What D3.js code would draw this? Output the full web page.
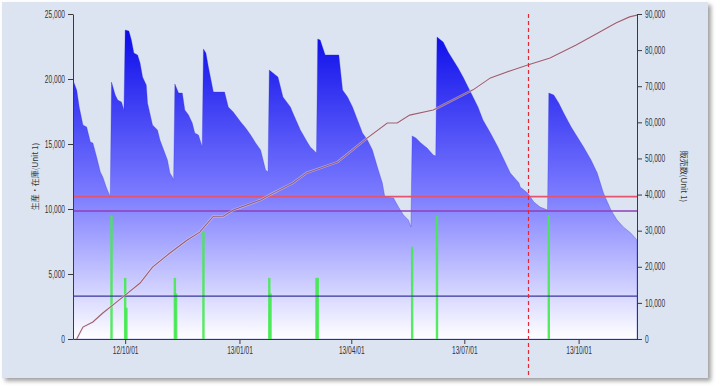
<!DOCTYPE html>
<html><head><meta charset="utf-8">
<script src="https://cdn.jsdelivr.net/npm/d3@7"></script>
<style>
html,body{margin:0;padding:0;background:#ffffff;}
svg{display:block;}
</style></head>
<body>
<svg id="chart" width="720" height="388"></svg>
<script>
// ---- data ----
const invDates = ["2012-08-20","2012-08-23","2012-08-25","2012-08-28","2012-08-31","2012-09-03","2012-09-05","2012-09-08","2012-09-11","2012-09-13","2012-09-16","2012-09-19",
"2012-09-20","2012-09-23","2012-09-25","2012-09-28","2012-09-30",
"2012-10-01","2012-10-04","2012-10-06","2012-10-08","2012-10-11","2012-10-13","2012-10-15","2012-10-18","2012-10-19","2012-10-23","2012-10-27","2012-10-29","2012-11-01","2012-11-04","2012-11-06","2012-11-08","2012-11-09",
"2012-11-10","2012-11-13","2012-11-16","2012-11-18","2012-11-21","2012-11-24","2012-11-26","2012-11-29","2012-12-02",
"2012-12-03","2012-12-05","2012-12-07","2012-12-11","2012-12-20","2012-12-23","2012-12-27","2013-01-02","2013-01-06","2013-01-10","2013-01-14","2013-01-18","2013-01-22","2013-01-24",
"2013-01-25","2013-01-28","2013-02-01","2013-02-05","2013-02-11","2013-02-13","2013-02-19","2013-02-25","2013-02-27","2013-03-04",
"2013-03-05","2013-03-07","2013-03-11","2013-03-22","2013-03-25","2013-03-29","2013-04-02","2013-04-06","2013-04-10","2013-04-14","2013-04-18","2013-04-22","2013-04-26","2013-04-28","2013-05-05","2013-05-09","2013-05-13","2013-05-17","2013-05-19",
"2013-05-20","2013-05-23","2013-05-27","2013-06-01","2013-06-06","2013-06-08",
"2013-06-09","2013-06-12","2013-06-14","2013-06-18","2013-06-22","2013-06-26","2013-06-30","2013-07-04","2013-07-08","2013-07-12","2013-07-16","2013-07-22","2013-07-28","2013-08-02","2013-08-07","2013-08-14","2013-08-15","2013-08-21","2013-08-26","2013-08-31","2013-09-06",
"2013-09-07","2013-09-11","2013-09-15","2013-09-19","2013-09-25","2013-09-30","2013-10-05","2013-10-11","2013-10-16","2013-10-21","2013-10-27","2013-11-01","2013-11-06","2013-11-12","2013-11-17"];
const invValues = [19900,19150,17850,16460,16310,15150,15080,14000,12850,12460,11620,10950,
19770,18770,18380,18230,17620,
23770,23690,23000,22000,21850,21230,20150,19540,18150,16460,16080,15310,14540,13770,12770,12460,12230,
19620,18920,18920,17620,17230,16620,15850,15690,14770,
22310,22000,20920,19000,19000,17850,17460,16690,16230,15690,15080,14540,13000,12850,
20690,20460,20150,18620,17850,17380,16080,15080,14770,14310,
23080,23000,21850,21850,19150,18620,17850,16850,15850,15310,14540,13230,12000,10920,10850,10150,9540,9150,8620,
15620,15460,15080,14690,14150,14080,
23230,23000,22850,22080,21460,20850,20150,19380,18620,17850,16850,15850,14770,13770,12770,12000,11690,11230,10540,10150,9920,
18920,18770,18150,17380,16310,15540,14770,13770,12770,11230,9920,9150,8620,8150,7620];

const prodDates = ["2012-09-20","2012-10-01","2012-10-02","2012-11-10","2012-11-11","2012-12-03","2013-01-25","2013-01-26","2013-03-04","2013-03-05","2013-05-20","2013-06-09","2013-09-07"];
const prodValues = [9500,4700,2400,4700,3500,8300,4700,3500,4700,4700,7100,9500,9500];

const salesDates = ["2012-08-23","2012-08-28","2012-09-05","2012-09-13","2012-09-21","2012-10-03","2012-10-13","2012-10-23","2012-11-06","2012-11-20","2012-11-30","2012-12-11","2012-12-19","2012-12-27","2013-01-18","2013-01-28","2013-02-13","2013-02-24","2013-03-21","2013-04-14","2013-04-30","2013-05-08","2013-05-18","2013-06-06","2013-07-08","2013-07-22","2013-08-09","2013-08-21","2013-09-08","2013-09-29","2013-10-18","2013-10-31","2013-11-11","2013-11-17"];
const salesValues = [0,3300,4700,7200,9400,12700,15500,19900,23800,27400,29600,34000,34000,35700,38500,40400,43200,46000,49000,55700,59800,59800,62000,63400,69000,72300,74500,75900,77800,81400,85000,87500,89200,89700];

const refLines = [10950, 9850, 3300];           // left axis values
const markerDate = "2013-08-21";
const xTicks = ["2012-10-01","2013-01-01","2013-04-01","2013-07-01","2013-10-01"];
const yLeftTicks = [0,5000,10000,15000,20000,25000];
const yRightTicks = [0,10000,20000,30000,40000,50000,60000,70000,80000,90000];
const xDomain = ["2012-08-20","2013-11-17"];
const leftTitle = "生産・在庫(Unit 1)";
const rightTitle = "販売数(Unit 1)";

// ---- drawing ----
const parse = d3.timeParse("%Y-%m-%d");
const svg = d3.select("#chart");
const L = 73, R = 637, T = 14, B = 339;
const fontF = "'Liberation Sans','Arial',sans-serif";
const SX = 0.66;

const defs = svg.append("defs");
const sh = defs.append("filter").attr("id","sh").attr("x","-5%").attr("y","-5%").attr("width","110%").attr("height","115%");
sh.append("feDropShadow").attr("dx",3).attr("dy",3).attr("stdDeviation",2).attr("flood-color","#777").attr("flood-opacity",0.7);

const grad = defs.append("linearGradient").attr("id","ag").attr("gradientUnits","userSpaceOnUse")
  .attr("x1",0).attr("y1",T).attr("x2",0).attr("y2",B);
grad.append("stop").attr("offset","0%").attr("stop-color","#0000e8");
grad.append("stop").attr("offset","55%").attr("stop-color","#7a7aff");
grad.append("stop").attr("offset","100%").attr("stop-color","#ffffff");

defs.append("clipPath").attr("id","clip").append("rect").attr("x",L).attr("y",T-2).attr("width",R-L).attr("height",B-T+2);

svg.append("rect").attr("x",2).attr("y",2).attr("width",706).attr("height",376)
  .attr("fill","#dce4f2").attr("filter","url(#sh)");

const x = d3.scaleTime().domain(xDomain.map(parse)).range([L,R]);
const yL = d3.scaleLinear().domain([0,25000]).range([B,T]);
const yR = d3.scaleLinear().domain([0,90000]).range([B,T]);

const inv = invDates.map((d,i)=>({d:parse(d),v:invValues[i]}));
const prod = prodDates.map((d,i)=>({d:parse(d),v:prodValues[i]}));
const sales = salesDates.map((d,i)=>({d:parse(d),v:salesValues[i]}));

const g = svg.append("g").attr("clip-path","url(#clip)");

g.append("path").datum(inv)
  .attr("d", d3.area().x(d=>x(d.d)).y0(yL(0)).y1(d=>yL(d.v)))
  .attr("fill","url(#ag)").attr("stroke","#3030d0").attr("stroke-width",0.5).attr("stroke-opacity",0.6);

g.selectAll("rect.prod").data(prod).enter().append("rect").attr("class","prod")
  .attr("x",d=>x(d.d)-1.2).attr("width",2.4)
  .attr("y",d=>yL(d.v)).attr("height",d=>yL(0)-yL(d.v))
  .attr("fill","#44ea50").attr("fill-opacity",0.9);

const refColors = ["#e4546e","#8e3fb8","#38389a"];
const refW = [1.6,1.6,1.2];
refLines.forEach((v,i)=>{
  g.append("line").attr("x1",L).attr("x2",R).attr("y1",yL(v)).attr("y2",yL(v))
    .attr("stroke",refColors[i]).attr("stroke-width",refW[i]);
});

g.append("path").datum(sales)
  .attr("d", d3.line().x(d=>x(d.d)).y(d=>yR(d.v)))
  .attr("fill","none").attr("stroke","#f4e8ee").attr("stroke-width",2.4).attr("stroke-opacity",0.5);
g.append("path").datum(sales)
  .attr("d", d3.line().x(d=>x(d.d)).y(d=>yR(d.v)))
  .attr("fill","none").attr("stroke","#9a5f70").attr("stroke-width",1.1);

// axes
const axStyle = sel => {
  sel.selectAll("path,line").attr("stroke","#3a3a3a");
  sel.selectAll("text").attr("font-family",fontF).attr("font-size","10px").attr("fill","#333")
    .each(function(){
      const t = d3.select(this);
      const xx = +(t.attr("x")||0);
      t.attr("x", xx/SX).attr("transform",`scale(${SX},1)`);
    });
};
svg.append("g").attr("transform",`translate(${L},0)`)
  .call(d3.axisLeft(yL).tickValues(yLeftTicks).tickFormat(d3.format(",")).tickSize(5).tickSizeOuter(0))
  .call(axStyle);
svg.append("g").attr("transform",`translate(${R},0)`)
  .call(d3.axisRight(yR).tickValues(yRightTicks).tickFormat(d3.format(",")).tickSize(5).tickSizeOuter(0))
  .call(axStyle);
svg.append("g").attr("transform",`translate(0,${B})`)
  .call(d3.axisBottom(x).tickValues(xTicks.map(parse)).tickFormat(d3.timeFormat("%y/%m/%d")).tickSize(5).tickSizeOuter(0))
  .call(axStyle);

// marker line
const mx = Math.round(x(parse(markerDate))) + 0.5;
svg.append("line").attr("x1",mx).attr("x2",mx)
  .attr("y1",T).attr("y2",376).attr("stroke","#e02a36").attr("stroke-width",1.2).attr("stroke-dasharray","4,3");

// titles
svg.append("text").attr("transform",`translate(38,${(T+B)/2}) rotate(-90)`)
  .attr("text-anchor","middle").attr("font-family","'Noto Sans CJK JP',sans-serif").attr("font-size","8px").attr("fill","#333")
  .text(leftTitle);
svg.append("text").attr("transform",`translate(681,${(T+B)/2}) rotate(90)`)
  .attr("text-anchor","middle").attr("font-family","'Noto Sans CJK JP',sans-serif").attr("font-size","8px").attr("fill","#333")
  .text(rightTitle);
</script>
</body></html>
